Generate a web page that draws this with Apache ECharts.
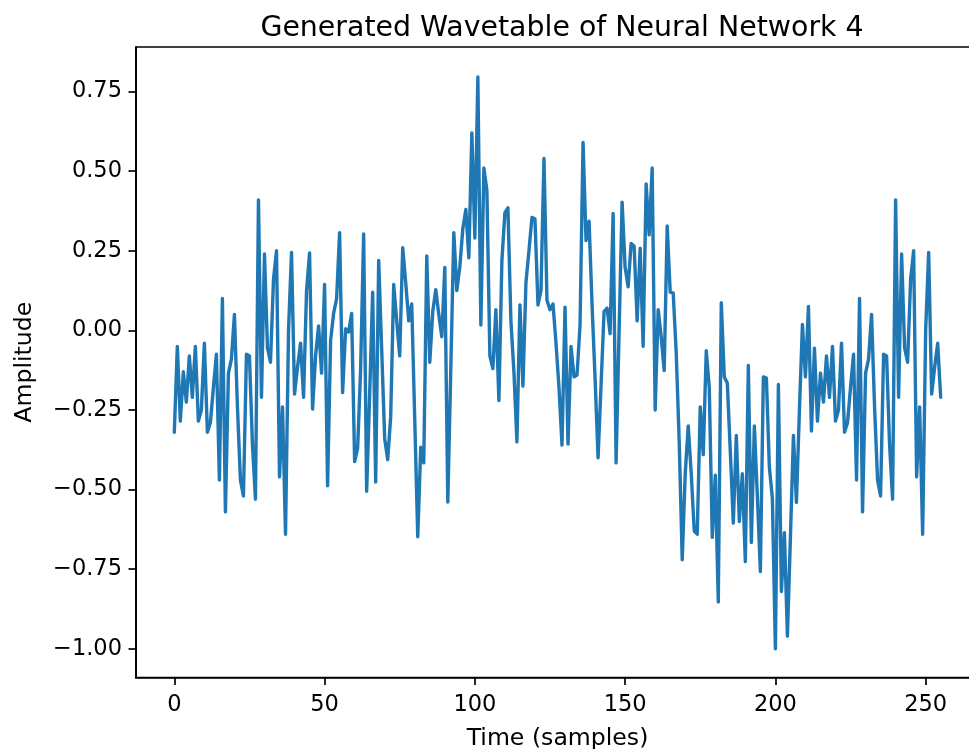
<!DOCTYPE html>
<html><head><meta charset="utf-8">
<script src="https://cdn.jsdelivr.net/npm/echarts@6/dist/echarts.min.js"></script>
<style>html,body{margin:0;padding:0;background:#fff}#c{width:969px;height:749px}</style>
</head><body><div id="c"></div>
<script>
const titleText = 'Generated Wavetable of Neural Network 4';
const xLabel = 'Time (samples)';
const yLabel = 'Amplitude';
const xTicks = [0, 50, 100, 150, 200, 250];
const yTicks = [-1.0, -0.75, -0.5, -0.25, 0, 0.25, 0.5, 0.75];
const xRange = [-12.75, 267.75];
const yRange = [-1.09, 0.89];

const amplitude = [
  -0.32, -0.05, -0.285, -0.13, -0.225, -0.08, -0.21, -0.05, -0.285, -0.25,
  -0.04, -0.32, -0.29, -0.18, -0.075, -0.47, 0.10, -0.57, -0.135, -0.09,
  0.05, -0.24, -0.47, -0.52, -0.075, -0.08, -0.36, -0.53, 0.41, -0.21,
  0.24, -0.055, -0.10, 0.16, 0.25, -0.46, -0.24, -0.64, 0.0, 0.245,
  -0.20, -0.115, -0.04, -0.21, 0.125, 0.243, -0.247, -0.08, 0.014, -0.134,
  0.144, -0.488, -0.032, 0.053, 0.10, 0.307, -0.195, 0.005, -0.005, 0.053,
  -0.412, -0.37, -0.12, 0.303, -0.505, -0.2, 0.12, -0.476, 0.22, -0.06,
  -0.34, -0.406, -0.27, 0.144, 0.03, -0.08, 0.26, 0.15, 0.03, 0.083,
  -0.28, -0.648, -0.367, -0.416, 0.234, -0.10, 0.06, 0.128, 0.05, -0.02,
  0.198, -0.539, -0.12, 0.307, 0.125, 0.2, 0.32, 0.38, 0.228, 0.62,
  0.29, 0.796, 0.017, 0.51, 0.44, -0.08, -0.12, 0.065, -0.22, 0.22,
  0.37, 0.385, 0.03, -0.13, -0.35, 0.08, -0.175, 0.15, 0.25, 0.355,
  0.35, 0.08, 0.125, 0.54, 0.095, 0.065, 0.083, -0.04, -0.18, -0.36,
  0.073, -0.357, -0.05, -0.146, -0.14, 0.017, 0.59, 0.282, 0.343, 0.08,
  -0.15, -0.40, -0.17, 0.06, 0.07, -0.01, 0.367, -0.416, 0.0, 0.403,
  0.198, 0.137, 0.273, 0.264, 0.03, 0.258, -0.05, 0.46, 0.30, 0.51,
  -0.25, 0.065, -0.02, -0.126, 0.328, 0.12, 0.117, -0.07, -0.35, -0.72,
  -0.45, -0.30, -0.45, -0.63, -0.64, -0.24, -0.39, -0.064, -0.18, -0.65,
  -0.455, -0.853, 0.087, -0.146, -0.165, -0.38, -0.605, -0.33, -0.60, -0.45,
  -0.726, -0.11, -0.666, -0.30, -0.52, -0.757, -0.146, -0.15, -0.43, -0.527,
  -1.0, -0.17, -0.82, -0.635, -0.96, -0.65, -0.33, -0.54, -0.25, 0.019,
  -0.146, 0.075, -0.316, -0.056, -0.285, -0.134, -0.225, -0.08, -0.21, -0.05,
  -0.285, -0.25, -0.04, -0.32, -0.29, -0.18, -0.075, -0.47, 0.10, -0.57,
  -0.135, -0.09, 0.05, -0.24, -0.47, -0.52, -0.075, -0.08, -0.36, -0.53,
  0.41, -0.21, 0.24, -0.055, -0.10, 0.16, 0.25, -0.46, -0.24, -0.64,
  0.0, 0.245, -0.20, -0.115, -0.04, -0.21
];

const FONT = 'DejaVu Sans';
const fmtNum = v => (v < 0 ? '\u2212' : '') + Math.abs(v).toFixed(2);
const chart = echarts.init(document.getElementById('c'), null, {renderer: 'canvas'});
chart.setOption({
  animation: false,
  backgroundColor: '#ffffff',
  textStyle: {fontFamily: FONT},
  title: {
    text: titleText, left: 557, top: 10, textAlign: 'center',
    textStyle: {fontFamily: FONT, fontSize: 28.4, fontWeight: 'normal', color: '#000'}
  },
  grid: {left: 136, top: 47, width: 843, height: 630.5, outerBoundsMode: 'none', containLabel: false,
    show: true, borderColor: '#000', borderWidth: 1.7, backgroundColor: 'transparent'},
  xAxis: {
    type: 'value', min: xRange[0], max: xRange[1],
    axisLine: {show: true, onZero: false, lineStyle: {color: '#000', width: 1.7}},
    axisTick: {show: true, customValues: xTicks, length: 7.5, lineStyle: {color: '#000', width: 1.7}},
    axisLabel: {customValues: xTicks, margin: 16, fontSize: 22.5, color: '#000', fontFamily: FONT,
      formatter: v => String(v)},
    splitLine: {show: false},
    name: xLabel, nameLocation: 'middle', nameGap: 49,
    nameTextStyle: {fontSize: 23.6, color: '#000', fontFamily: FONT}
  },
  yAxis: {
    type: 'value', min: yRange[0], max: yRange[1],
    axisLine: {show: true, onZero: false, lineStyle: {color: '#000', width: 1.7}},
    axisTick: {show: true, customValues: yTicks, length: 7.5, lineStyle: {color: '#000', width: 1.7}},
    axisLabel: {customValues: yTicks, margin: 14, fontSize: 22.5, color: '#000', fontFamily: FONT,
      formatter: v => fmtNum(v)},
    splitLine: {show: false},
    name: yLabel, nameLocation: 'middle', nameGap: 99, nameRotate: 90,
    nameTextStyle: {fontSize: 23.6, color: '#000', fontFamily: FONT}
  },
  series: [{
    type: 'line', showSymbol: false, symbol: 'none',
    data: amplitude.map((v, i) => [i, v]),
    lineStyle: {color: '#1f77b4', width: 3.4, join: 'round', cap: 'round'},
    itemStyle: {color: '#1f77b4'}
  }]
});
</script></body></html>
